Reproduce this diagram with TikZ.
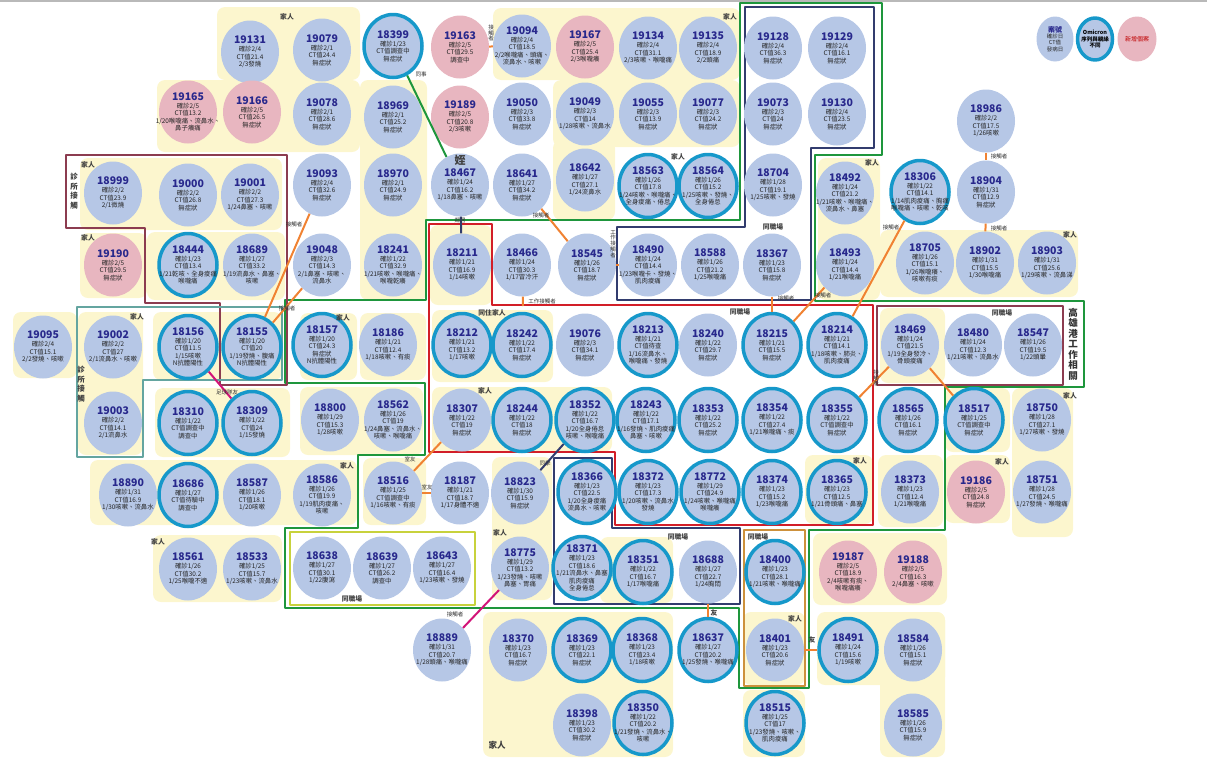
\documentclass[tikz,border=0pt]{standalone}
\usepackage{fontspec}
\setmainfont{Noto Sans CJK TC}
\usetikzlibrary{shapes.geometric}

\newcommand{\idfont}{\fontsize{10.5}{11}\selectfont\bfseries\color{idblue}}
% one case: [style]{id}{x,y}{lines}
\newcommand{\casenode}[4][]{%
  \node[case,#1,label={[casetxt]center:{{\idfont #2}\\[0.3pt]#4}}] (n#2) at (#3) {};}

\begin{document}
\begin{tikzpicture}[x=1pt,y=-1pt,line cap=round,line join=round,
  case/.style={ellipse,fill=cbase,minimum width=58pt,minimum height=63pt,inner sep=0pt},
  casetxt/.style={align=center,inner sep=0pt,text=black!85,font=\fontsize{6.4}{7.5}\selectfont},
  omi/.style={draw=omiblue,line width=3.5pt},
  newc/.style={fill=cpink},
  fam/.style={fill=famyel,rounded corners=8pt},
  grpframe/.style={line width=2.4pt},
  link/.style={line width=2pt,linkor,line cap=butt},
  tag/.style={font=\fontsize{5.5}{6}\selectfont,text=black!80,inner sep=0.5pt},
  vtag/.style={tag,align=center,font=\fontsize{5.5}{5.8}\selectfont},
  grp/.style={font=\fontsize{6.8}{8}\selectfont\bfseries,text=black!75,inner sep=0.5pt}]
  \definecolor{cbase}{RGB}{182,199,230}
  \definecolor{cpink}{RGB}{232,182,192}
  \definecolor{omiblue}{RGB}{22,152,202}
  \definecolor{idblue}{RGB}{40,40,140}
  \definecolor{famyel}{RGB}{252,246,206}
  \definecolor{grpgreen}{RGB}{30,150,60}
  \definecolor{grpred}{RGB}{210,30,40}
  \definecolor{grpnavy}{RGB}{50,60,110}
  \definecolor{grpmaroon}{RGB}{140,60,80}
  \definecolor{grpteal}{RGB}{100,165,160}
  \definecolor{grpolive}{RGB}{200,210,60}
  \definecolor{grpbrown}{RGB}{205,145,60}
  \definecolor{linkor}{RGB}{240,130,50}
  \definecolor{linkmag}{RGB}{210,20,120}

  \useasboundingbox (0,0) rectangle (1207,758);
  \fill[gray!55] (0,0) rectangle (1207,2);

  % ---- family backgrounds ----
  \fill[fam] (217,7) rectangle (360,80);
  \fill[fam] (157,80) rectangle (360,152);
  \fill[fam] (360,80) rectangle (427,300);
  \fill[fam] (493,8) rectangle (740,80);
  \fill[fam] (553,80) rectangle (740,147);
  \fill[fam] (553,140) rectangle (615,220);
  \fill[fam] (80,158) rectangle (282,230);
  \fill[fam] (80,233) rectangle (147,298);
  \fill[fam] (147,232) rectangle (285,300);
  \fill[fam] (13,312) rectangle (77,378);
  \fill[fam] (78,312) rectangle (143,455);
  \fill[fam] (153,312) rectangle (282,380);
  \fill[fam] (155,388) rectangle (290,457);
  \fill[fam] (90,460) rectangle (357,525);
  \fill[fam] (153,535) rectangle (282,602);
  \fill[fam] (300,313) rectangle (357,380);
  \fill[fam] (360,313) rectangle (426,380);
  \fill[fam] (300,387) rectangle (423,455);
  \fill[fam] (363,458) rectangle (426,525);
  \fill[fam] (432,387) rectangle (612,452);
  \fill[fam] (432,310) rectangle (553,382);
  \fill[fam] (430,225) rectangle (492,305);
  \fill[fam] (492,457) rectangle (552,600);
  \fill[fam] (483,612) rectangle (673,757);
  \fill[fam] (600,537) rectangle (673,603);
  \fill[fam] (743,612) rectangle (805,685);
  \fill[fam] (743,690) rectangle (805,757);
  \fill[fam] (813,533) rectangle (947,605);
  \fill[fam] (817,612) rectangle (945,685);
  \fill[fam] (880,612) rectangle (945,757);
  \fill[fam] (805,455) rectangle (873,524);
  \fill[fam] (878,455) rectangle (943,527);
  \fill[fam] (945,455) rectangle (1010,523);
  \fill[fam] (1012,388) rectangle (1073,537);
  \fill[fam] (945,388) rectangle (1010,452);
  \fill[fam] (880,308) rectangle (945,383);
  \fill[fam] (880,230) rectangle (1078,297);
  \fill[fam] (818,158) rectangle (880,300);

  % ---- group frames ----
  \draw[grpframe,grpgreen,line width=2.8pt] (426,220) -- (740,220) -- (740,3) -- (882,3)
    -- (882,155) -- (815,155) -- (815,301) -- (1084,301) -- (1084,387) -- (945,387)
    -- (945,530) -- (809,530) -- (809,688) -- (739,688) -- (739,608) -- (285,608)
    -- (285,528) -- (358,528) -- (358,455) -- (425,455) -- (425,383) -- (285,383)
    -- (285,300) -- (426,300) -- cycle;
  \draw[grpframe,grpred] (429,224) -- (492,224) -- (492,305) -- (873,305) -- (873,525)
    -- (615,525) -- (615,452) -- (429,452) -- cycle;
  \draw[grpframe,grpnavy] (745,7) -- (874,7) -- (874,148) -- (811,148) -- (811,300)
    -- (617,300) -- (617,227) -- (745,227) -- cycle;
  \draw[grpframe,grpnavy] (554,458) -- (612,458) -- (612,528) -- (740,528) -- (740,604)
    -- (554,604) -- cycle;
  \draw[grpframe,grpbrown] (744,530) rectangle (805,686);
  \draw[grpframe,grpolive] (290,532) rectangle (475,605);
  \draw[grpframe,grpmaroon] (877,306) rectangle (1063,385);
  \draw[grpframe,grpmaroon] (66,155) -- (287,155) -- (287,385) -- (220,385) -- (220,303)
    -- (145,303) -- (145,228) -- (66,228) -- cycle;
  \draw[grpframe,grpteal] (77,307) -- (282,307) -- (282,380) -- (143,380) -- (143,457)
    -- (77,457) -- cycle;

  % ---- row 1 ----
  \casenode{19131}{250,52}{確診2/4\\CT值21.4\\2/3發燒}
  \casenode{19079}{322,50}{確診2/1\\CT值24.4\\無症狀}
  \casenode[omi]{18399}{393,46}{確診1/23\\CT值調查中\\無症狀}
  \casenode[newc]{19163}{460,47}{確診2/5\\CT值29.5\\調查中}
  \casenode{19094}{522,46}{確診2/4\\CT值18.5\\2/2喉嚨痛、頭痛、\\流鼻水、咳嗽}
  \casenode[newc]{19167}{585,47}{確診2/5\\CT值25.4\\2/3喉嚨癢}
  \casenode{19134}{648,48}{確診2/4\\CT值31.1\\2/3咳嗽、喉嚨痛}
  \casenode{19135}{708,48}{確診2/4\\CT值18.9\\2/2頭痛}
  \casenode{19128}{773,48}{確診2/4\\CT值36.3\\無症狀}
  \casenode{19129}{837,48}{確診2/4\\CT值16.1\\無症狀}

  % ---- row 2 ----
  \casenode[newc]{19165}{188,112}{確診2/5\\CT值13.2\\1/20喉嚨痛、流鼻水、\\鼻子癢痛}
  \casenode[newc]{19166}{252,112}{確診2/5\\CT值26.5\\無症狀}
  \casenode{19078}{322,114}{確診2/1\\CT值28.6\\無症狀}
  \casenode{18969}{393,117}{確診2/1\\CT值25.2\\無症狀}
  \casenode[newc]{19189}{460,117}{確診2/5\\CT值20.8\\2/3咳嗽}
  \casenode{19050}{522,114}{確診2/3\\CT值33.8\\無症狀}
  \casenode{19049}{585,114}{確診2/3\\CT值14\\1/28咳嗽、流鼻水}
  \casenode{19055}{648,114}{確診2/3\\CT值13.9\\無症狀}
  \casenode{19077}{708,114}{確診2/3\\CT值24.2\\無症狀}
  \casenode{19073}{773,114}{確診2/3\\CT值24\\無症狀}
  \casenode{19130}{837,114}{確診2/4\\CT值23.5\\無症狀}
  \casenode{18986}{986,121}{確診2/2\\CT值17.5\\1/26咳嗽}

  % ---- row 3 ----
  \casenode{18999}{113,193}{確診2/2\\CT值23.9\\2/1微燒}
  \casenode{19000}{188,195}{確診2/2\\CT值26.8\\無症狀}
  \casenode{19001}{250,195}{確診2/2\\CT值27.3\\1/24鼻塞、咳嗽}
  \casenode{19093}{322,185}{確診2/4\\CT值32.6\\無症狀}
  \casenode{18970}{393,185}{確診2/1\\CT值24.9\\無症狀}
  \casenode{18467}{460,185}{確診1/24\\CT值16.2\\1/18鼻塞、咳嗽}
  \casenode{18641}{522,185}{確診1/27\\CT值34.2\\無症狀}
  \casenode{18642}{585,180}{確診1/27\\CT值27.1\\1/24流鼻水}
  \casenode[omi]{18563}{648,186}{確診1/26\\CT值17.8\\1/24咳嗽、喉嚨痛、\\全身痠痛、倦怠}
  \casenode[omi]{18564}{708,186}{確診1/26\\CT值15.2\\1/25咳嗽、發燒、\\全身倦怠}
  \casenode{18704}{773,185}{確診1/28\\CT值19.1\\1/25咳嗽、發燒}
  \casenode{18492}{845,193}{確診1/24\\CT值21.2\\1/21咳嗽、喉嚨痛、\\流鼻水、鼻塞}
  \casenode[omi]{18306}{920,192}{確診1/22\\CT值14.1\\1/14肌肉痠痛、胸痛\\喉嚨痛、咳嗽、乾咳}
  \casenode{18904}{986,192}{確診1/31\\CT值12.9\\無症狀}

  % ---- row 4 ----
  \casenode[newc]{19190}{113,265}{確診2/5\\CT值29.5\\無症狀}
  \casenode[omi]{18444}{188,265}{確診1/23\\CT值13.4\\1/21乾咳、全身痠痛\\喉嚨痛}
  \casenode{18689}{252,265}{確診1/27\\CT值33.2\\1/19流鼻水、鼻塞、\\咳嗽}
  \casenode{19048}{322,265}{確診2/3\\CT值14.3\\2/1鼻塞、咳嗽、\\流鼻水}
  \casenode{18241}{393,265}{確診1/22\\CT值32.9\\1/21咳嗽、喉嚨痛、\\喉嚨乾癢}
  \casenode{18211}{462,265}{確診1/21\\CT值16.9\\1/14咳嗽}
  \casenode{18466}{522,265}{確診1/24\\CT值30.3\\1/17冒冷汗}
  \casenode{18545}{587,265}{確診1/26\\CT值18.7\\無症狀}
  \casenode{18490}{648,265}{確診1/24\\CT值14.4\\1/23喉嚨卡、發燒、\\肌肉痠痛}
  \casenode{18588}{710,265}{確診1/26\\CT值21.2\\1/25喉嚨痛}
  \casenode{18367}{772,265}{確診1/23\\CT值15.8\\無症狀}
  \casenode{18493}{845,265}{確診1/24\\CT值14.4\\1/21喉嚨痛}
  \casenode{18705}{925,263}{確診1/26\\CT值15.1\\1/26喉嚨癢、\\咳嗽有痰}
  \casenode{18902}{985,263}{確診1/31\\CT值15.5\\1/30喉嚨痛}
  \casenode{18903}{1047,263}{確診1/31\\CT值25.6\\1/29咳嗽、流鼻涕}

  % ---- row 5 ----
  \casenode{19095}{43,347}{確診2/4\\CT值15.1\\2/2發燒、咳嗽}
  \casenode{19002}{113,347}{確診2/2\\CT值27\\2/1流鼻水、咳嗽}
  \casenode[omi]{18156}{188,347}{確診1/20\\CT值11.5\\1/15咳嗽\\N抗體陽性}
  \casenode[omi]{18155}{252,347}{確診1/20\\CT值20\\1/19發燒、腹痛\\N抗體陽性}
  \casenode[omi]{18157}{322,345}{確診1/20\\CT值24.3\\無症狀\\N抗體陽性}
  \casenode{18186}{388,345}{確診1/21\\CT值12.4\\1/18咳嗽、有痰}
  \casenode[omi]{18212}{462,345}{確診1/21\\CT值13.2\\1/17咳嗽}
  \casenode[omi]{18242}{522,345}{確診1/22\\CT值17.4\\無症狀}
  \casenode{19076}{585,345}{確診2/3\\CT值34.1\\無症狀}
  \casenode[omi]{18213}{648,345}{確診1/21\\CT值待查\\1/16流鼻水、\\喉嚨痛、發燒}
  \casenode{18240}{708,345}{確診1/22\\CT值29.7\\無症狀}
  \casenode[omi]{18215}{772,345}{確診1/21\\CT值15.5\\無症狀}
  \casenode[omi]{18214}{837,345}{確診1/21\\CT值14.1\\1/18咳嗽、肺炎、\\肌肉痠痛}
  \casenode{18469}{910,345}{確診1/24\\CT值21.5\\1/19全身發冷、\\骨頭痠痛}
  \casenode{18480}{973,345}{確診1/24\\CT值12.3\\1/21咳嗽、流鼻水}
  \casenode{18547}{1033,345}{確診1/26\\CT值19.5\\1/22頭暈}

  % ---- row 6 ----
  \casenode{19003}{113,423}{確診2/2\\CT值14.1\\2/1流鼻水}
  \casenode[omi]{18310}{188,423}{確診1/22\\CT值調查中\\調查中}
  \casenode[omi]{18309}{252,423}{確診1/22\\CT值24\\1/15發燒}
  \casenode{18800}{330,420}{確診1/29\\CT值15.3\\1/28咳嗽}
  \casenode{18562}{393,420}{確診1/26\\CT值19\\1/24鼻塞、流鼻水、\\咳嗽、喉嚨痛}
  \casenode{18307}{462,420}{確診1/22\\CT值19\\無症狀}
  \casenode[omi]{18244}{522,420}{確診1/22\\CT值18\\無症狀}
  \casenode[omi]{18352}{585,420}{確診1/22\\CT值16.7\\1/20全身倦怠\\咳嗽、喉嚨痛}
  \casenode[omi]{18243}{646,420}{確診1/22\\CT值17.1\\1/16發燒、肌肉痠痛\\鼻塞、咳嗽}
  \casenode[omi]{18353}{708,420}{確診1/22\\CT值25.2\\無症狀}
  \casenode[omi]{18354}{772,420}{確診1/22\\CT值27.4\\1/21喉嚨痛、痰}
  \casenode[omi]{18355}{837,420}{確診1/22\\CT值調查中\\無症狀}
  \casenode[omi]{18565}{908,420}{確診1/26\\CT值16.1\\無症狀}
  \casenode[omi]{18517}{974,420}{確診1/25\\CT值調查中\\無症狀}
  \casenode{18750}{1042,420}{確診1/28\\CT值27.1\\1/27咳嗽、發燒}

  % ---- row 7 ----
  \casenode{18890}{128,495}{確診1/31\\CT值16.9\\1/30咳嗽、流鼻水}
  \casenode[omi]{18686}{188,495}{確診1/27\\CT值待驗中\\調查中}
  \casenode{18587}{252,495}{確診1/26\\CT值18.1\\1/20咳嗽}
  \casenode{18586}{322,495}{確診1/26\\CT值19.9\\1/19肌肉痠痛、\\咳嗽}
  \casenode{18516}{393,493}{確診1/25\\CT值調查中\\1/16咳嗽、有痰}
  \casenode{18187}{460,493}{確診1/21\\CT值18.7\\1/17身體不適}
  \casenode{18823}{520,493}{確診1/30\\CT值15.9\\無症狀}
  \casenode[omi]{18366}{587,492}{確診1/23\\CT值22.5\\1/20全身痠痛\\流鼻水、咳嗽}
  \casenode[omi]{18372}{648,492}{確診1/23\\CT值17.3\\1/20咳嗽、流鼻水\\發燒}
  \casenode[omi]{18772}{710,492}{確診1/29\\CT值24.9\\1/24咳嗽、喉嚨痛\\喉嚨癢}
  \casenode[omi]{18374}{772,492}{確診1/23\\CT值15.2\\1/23喉嚨痛}
  \casenode[omi]{18365}{837,492}{確診1/23\\CT值12.5\\1/21骨頭痛、鼻塞}
  \casenode{18373}{910,492}{確診1/23\\CT值12.4\\1/21喉嚨痛}
  \casenode[newc]{19186}{976,492}{確診2/5\\CT值24.8\\無症狀}
  \casenode{18751}{1042,492}{確診1/28\\CT值24.5\\1/27發燒、喉嚨痛}

  % ---- row 8 ----
  \casenode{18561}{188,569}{確診1/26\\CT值30.2\\1/25喉嚨不適}
  \casenode{18533}{252,569}{確診1/25\\CT值15.7\\1/23咳嗽、流鼻水}
  \casenode{18638}{322,568}{確診1/27\\CT值30.1\\1/22腹瀉}
  \casenode{18639}{382,568}{確診1/27\\CT值26.2\\調查中}
  \casenode{18643}{442,568}{確診1/27\\CT值16.4\\1/23咳嗽、發燒}
  \casenode{18775}{520,568}{確診1/29\\CT值13.2\\1/23發燒、咳嗽\\鼻塞、胃痛}
  \casenode[omi]{18371}{582,568}{確診1/23\\CT值18.6\\1/21流鼻水、鼻塞\\肌肉痠痛\\全身倦怠}
  \casenode[omi]{18351}{643,572}{確診1/22\\CT值16.7\\1/17喉嚨痛}
  \casenode{18688}{708,572}{確診1/27\\CT值22.7\\1/24胸悶}
  \casenode[omi]{18400}{775,572}{確診1/23\\CT值28.1\\1/21咳嗽、喉嚨痛}
  \casenode[newc]{19187}{848,572}{確診2/5\\CT值18.9\\2/4咳嗽有痰、\\喉嚨痛癢}
  \casenode[newc]{19188}{913,572}{確診2/5\\CT值16.3\\2/4鼻塞、咳嗽}

  % ---- row 9 ----
  \casenode{18889}{442,650}{確診1/31\\CT值20.7\\1/28頭痛、喉嚨痛}
  \casenode{18370}{518,650}{確診1/23\\CT值16.7\\無症狀}
  \casenode[omi]{18369}{582,650}{確診1/23\\CT值22.1\\無症狀}
  \casenode[omi]{18368}{642,650}{確診1/23\\CT值23.4\\1/18咳嗽}
  \casenode[omi]{18637}{708,650}{確診1/27\\CT值20.2\\1/25發燒、喉嚨痛}
  \casenode{18401}{775,650}{確診1/23\\CT值20.6\\無症狀}
  \casenode[omi]{18491}{848,650}{確診1/24\\CT值15.6\\1/19咳嗽}
  \casenode{18584}{913,650}{確診1/26\\CT值15.1\\無症狀}

  % ---- row 10 ----
  \casenode{18398}{582,725}{確診1/23\\CT值30.2\\無症狀}
  \casenode[omi]{18350}{643,723}{確診1/22\\CT值20.2\\1/21發燒、流鼻水、\\咳嗽}
  \casenode[omi]{18515}{775,723}{確診1/25\\CT值17\\1/23發燒、咳嗽、\\肌肉痠痛}
  \casenode{18585}{913,725}{確診1/26\\CT值15.9\\無症狀}

  % ---- contacts ----
  \coordinate (wk) at (523,306);
  \draw[link,grpgreen] (n18399) -- (n18467);
  \draw[link,grpnavy] (n18467) -- (n18211);
  \draw[link] (n19163) -- (n19094);
  \draw[link] (n18155) -- (n19093);
  \draw[link] (n18155) -- (n19048);
  \draw[link] (n18641) -- (n18545);
  \draw[link] (n18545) -- (n18490);
  \draw[link] (n18466) -- (wk);
  \draw[link] (n18367) -- (n18215);
  \draw[link] (n18215) -- (n18493);
  \draw[link] (n18214) -- (n18306);
  \draw[link] (n18355) -- (n18469);
  \draw[link] (n18469) -- (n18517);
  \draw[link] (n18986) -- (n18904);
  \draw[link] (n18904) -- (n18902);
  \draw[link] (n18307) -- (n18516);
  \draw[link] (n18516) -- (n18187);
  \draw[link] (n18688) -- (n18637);
  \draw[link] (n18401) -- (n18491);
  \draw[link,linkmag] (n18156) -- (n18309);
  \draw[link,linkmag] (n18775) -- (n18889);
  \draw[link,grpnavy] (n18823) -- (n18352);

  % ---- contact labels ----
  \node[tag] (t1) at (421,74) {同事};
  \node[tag] (t2) at (460,220) {鄰居};
  \node[vtag] (t3) at (491,33) {接\\觸\\者};
  \node[tag] (t4) at (294,224) {接觸者};
  \node[tag] (t5) at (287,308) {接觸者};
  \node[tag] (t6) at (541,215) {接觸者};
  \node[vtag] (t7) at (613,244) {工\\作\\接\\觸\\者};
  \node[tag] (t8) at (542,301) {工作接觸者};
  \node[tag] (t9) at (786,298) {接觸者};
  \node[tag] (t10) at (823,295) {接觸者};
  \node[tag] (t11) at (891,227) {接觸者};
  \node[vtag] (t12) at (876,378) {接\\觸\\者};
  \node[tag] (t13) at (999,156) {接觸者};
  \node[tag] (t14) at (999,228) {接觸者};
  \node[tag] (t15) at (410,459) {室友};
  \node[tag] (t16) at (427,487) {室友};
  \node[tag] (t17) at (545,463) {同學};
  \node[tag] (t18) at (227,392) {足球隊友};
  \node[tag] (t19) at (455,614) {接觸者};
  \node[grp] (t20) at (714,613) {友};
  \node[grp] (t21) at (812,640) {友};

  % ---- group labels ----
  \node[grp] (g1) at (287,17) {家人};
  \node[grp] (g2) at (730,17) {家人};
  \node[grp] (g3) at (88,165) {家人};
  \node[grp] (g4) at (88,238) {家人};
  \node[grp] (g5) at (137,317) {家人};
  \node[grp] (g6) at (343,318) {家人};
  \node[grp] (g7) at (485,391) {家人};
  \node[grp] (g8) at (347,466) {家人};
  \node[grp] (g9) at (158,542) {家人};
  \node[grp] (g10) at (500,533) {家人};
  \node[grp,font=\fontsize{8.5}{9}\selectfont\bfseries] (g11) at (497,745) {家人};
  \node[grp] (g12) at (678,157) {家人};
  \node[grp] (g13) at (872,163) {家人};
  \node[grp] (g14) at (1070,235) {家人};
  \node[grp] (g15) at (860,461) {家人};
  \node[grp] (g16) at (1002,462) {家人};
  \node[grp] (g17) at (1070,396) {家人};
  \node[grp] (g18) at (795,619) {家人};
  \node[grp] (g19) at (492,313) {同住家人};
  \node[grp] (w1) at (773,227) {同職場};
  \node[grp] (w2) at (740,312) {同職場};
  \node[grp] (w3) at (678,537) {同職場};
  \node[grp] (w4) at (758,537) {同職場};
  \node[grp] (w5) at (352,599) {同職場};
  \node[grp] (w6) at (1002,313) {同職場};
  \node[grp,font=\fontsize{11}{12}\selectfont\bfseries] (kin) at (460,160) {姪};
  \node[grp,align=center,font=\fontsize{7.5}{9.5}\selectfont\bfseries] (cl1) at (74,191) {診\\所\\接\\觸};
  \node[grp,align=center,font=\fontsize{7.5}{9.5}\selectfont\bfseries] (cl2) at (81,384) {診\\所\\接\\觸};
  \node[grp,align=center,font=\fontsize{9.5}{10.5}\selectfont\bfseries,text=black!80] (port) at (1073,344)
    {高\\雄\\港\\工\\作\\相\\關};

  % ---- legend ----
  \node[case,minimum width=37pt,minimum height=45pt,
    label={[casetxt,font=\fontsize{5.5}{6.4}\selectfont]center:{{\fontsize{7}{8}\selectfont\bfseries\color{idblue}案號}\\確診日\\CT值\\發病日}}]
    (lg1) at (1055,39) {};
  \node[case,omi,minimum width=35pt,minimum height=42pt,
    label={[casetxt,font=\fontsize{5.5}{6.8}\selectfont\bfseries,text=black]center:{Omicron\\序列與親緣\\不同}}]
    (lg2) at (1095,39) {};
  \node[case,newc,minimum width=39pt,minimum height=45pt,
    label={[casetxt,font=\fontsize{6}{7}\selectfont,text=red!75!black]center:{新增個案}}]
    (lg3) at (1137,39) {};
\end{tikzpicture}
\end{document}
